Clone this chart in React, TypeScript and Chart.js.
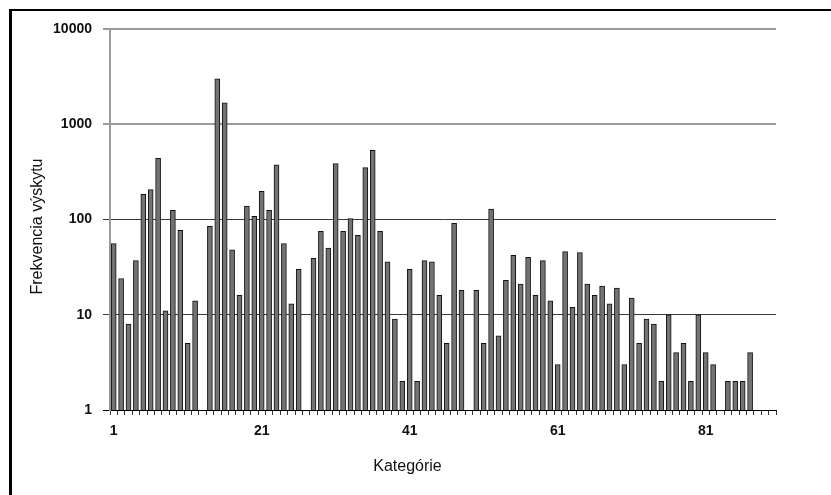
import { useEffect, useRef } from "react";
import { Chart, registerables } from "chart.js";

Chart.register(...registerables);

const categories = [
  "1", "2", "3", "4", "5", "6", "7", "8", "9", "10",
  "11", "12", "13", "14", "15", "16", "17", "18", "19", "20",
  "21", "22", "23", "24", "25", "26", "27", "28", "29", "30",
  "31", "32", "33", "34", "35", "36", "37", "38", "39", "40",
  "41", "42", "43", "44", "45", "46", "47", "48", "49", "50",
  "51", "52", "53", "54", "55", "56", "57", "58", "59", "60",
  "61", "62", "63", "64", "65", "66", "67", "68", "69", "70",
  "71", "72", "73", "74", "75", "76", "77", "78", "79", "80",
  "81", "82", "83", "84", "85", "86", "87", "88", "89", "90",
];

const frequencies: (number | null)[] = [
  56, 24, 8, 37, 184, 206, 440, 11, 125, 77,
  5, 14, null, 85, 2990, 1675, 48, 16, 138, 108,
  197, 125, 375, 56, 13, 30, null, 39, 75, 50,
  387, 75, 102, 68, 351, 533, 75, 36, 9, 2,
  30, 2, 37, 36, 16, 5, 91, 18, null, 18,
  5, 129, 6, 23, 42, 21, 40, 16, 37, 14,
  3, 46, 12, 45, 21, 16, 20, 13, 19, 3,
  15, 5, 9, 8, 2, 10, 4, 5, 2, 10,
  4, 3, null, 2, 2, 2, 4, null, null, null,
];

const yTickValues = [1, 10, 100, 1000, 10000];
const xTickLabels = ["1", "21", "41", "61", "81"];
const yAxisTitle = "Frekvencia výskytu";
const xAxisTitle = "Kategórie";

const FONT = '"Liberation Sans", Arial, sans-serif';

const axisTitlesPlugin = {
  id: "axisTitles",
  afterDraw(chart: any) {
    const { ctx, chartArea } = chart;
    ctx.save();
    ctx.font = `16px ${FONT}`;
    ctx.fillStyle = "#111";
    ctx.textAlign = "center";
    ctx.textBaseline = "middle";
    ctx.fillText(xAxisTitle, chartArea.left + 297.5, chartArea.bottom + 57);
    ctx.translate(chartArea.left - 72, chartArea.top + 197.5);
    ctx.rotate(-Math.PI / 2);
    ctx.fillText(yAxisTitle, 0, 0);
    ctx.restore();
  },
};

function gridColor(v: number) {
  if (v === 1) return "#000";
  if (v >= 1000) return "#9a9a9a";
  return "#3a3a3a";
}

export default function App() {
  const canvasRef = useRef<HTMLCanvasElement | null>(null);

  useEffect(() => {
    const canvas = canvasRef.current;
    if (!canvas) return;
    const chart = new Chart(canvas, {
      type: "bar",
      data: {
        labels: categories,
        datasets: [
          {
            data: frequencies,
            backgroundColor: "#737373",
            borderColor: "#111",
            borderWidth: 1,
            barThickness: 5,
            categoryPercentage: 1,
          },
        ],
      },
      options: {
        animation: false,
        responsive: false,
        maintainAspectRatio: false,
        devicePixelRatio: 1,
        layout: { padding: { top: 29, right: 55, bottom: 0, left: 0 } },
        plugins: {
          legend: { display: false },
          tooltip: { enabled: false },
          title: { display: false },
        },
        scales: {
          x: {
            grid: {
              display: true,
              drawOnChartArea: false,
              drawTicks: true,
              tickLength: 5,
              color: "#333",
              offset: true,
            },
            border: { color: "#000", width: 1 },
            ticks: {
              autoSkip: false,
              maxRotation: 0,
              minRotation: 0,
              padding: 8,
              color: "#111",
              font: { family: FONT, size: 14, weight: "bold" },
              callback(_value: any, index: number) {
                const l = categories[index];
                return xTickLabels.includes(l) ? l : "";
              },
            },
            afterFit(scale: any) {
              scale.height = 85;
            },
          },
          y: {
            type: "logarithmic",
            min: 1,
            max: 10000,
            afterBuildTicks(scale: any) {
              scale.ticks = yTickValues.map((v) => ({ value: v }));
            },
            grid: {
              color: (ctx: any) => gridColor(ctx.tick ? ctx.tick.value : 0),
              tickColor: (ctx: any) => gridColor(ctx.tick ? ctx.tick.value : 0),
              lineWidth: (ctx: any) => (ctx.tick && ctx.tick.value >= 1000 ? 2 : 1),
              tickLength: 7,
              drawTicks: true,
            },
            border: { color: "#9a9a9a", width: 2 },
            ticks: {
              padding: 11,
              color: "#111",
              font: { family: FONT, size: 14, weight: "bold" },
              callback: (v: any) => String(v),
            },
            afterFit(scale: any) {
              scale.width = 110;
            },
          },
        },
      },
      plugins: [axisTitlesPlugin],
    } as any);
    return () => chart.destroy();
  }, []);

  return (
    <div
      style={{
        position: "fixed",
        left: 0,
        top: 0,
        width: 831,
        height: 495,
        overflow: "hidden",
        background: "#fff",
      }}
    >
      <canvas
        ref={canvasRef}
        width={831}
        height={495}
        style={{ position: "absolute", left: 0, top: 0, width: 831, height: 495, display: "block" }}
      />
      <div
        style={{
          position: "absolute",
          left: 9,
          top: 9,
          width: 900,
          height: 600,
          borderLeft: "3px solid #000",
          borderTop: "2px solid #000",
          pointerEvents: "none",
        }}
      />
    </div>
  );
}
